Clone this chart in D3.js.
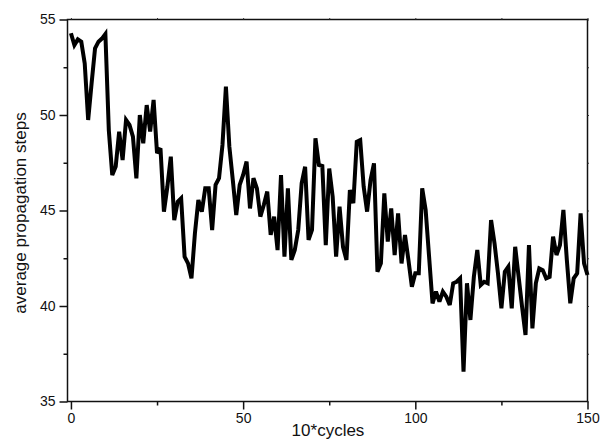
<!DOCTYPE html>
<html>
<head>
<meta charset="utf-8">
<script src="https://cdn.jsdelivr.net/npm/d3@7"></script>
<style>
  body { margin: 0; background: #fff; }
  svg { display: block; }
  text { font-family: "Liberation Sans", Arial, sans-serif; fill: #111; }
</style>
</head>
<body>
<svg id="chart" width="601" height="441"></svg>
<script>
// average propagation steps per sample, x = 0..150 (10*cycles)
const steps = [
  54.28, 53.66, 53.96, 53.84, 52.7, 49.74, 51.66, 53.49, 53.84, 54.0,
  54.24, 49.2, 46.86, 47.3, 49.13, 47.64, 49.74, 49.48, 48.87, 46.68,
  50.0, 48.52, 50.52, 49.13, 50.79, 48.0, 48.26, 44.94, 46.25, 47.82,
  44.5, 45.46, 45.64, 42.58, 42.23, 41.45, 43.8, 45.55, 44.94, 46.16,
  46.16, 43.98, 46.34, 46.69, 48.43, 51.48, 48.34, 46.6, 44.76, 46.34,
  46.86, 47.56, 45.11, 46.69, 46.16, 44.68, 45.29, 45.99, 43.72, 44.68,
  42.93, 46.86, 42.58, 46.16, 42.41, 42.93, 43.98, 46.42, 47.29, 43.46,
  43.98, 48.78, 47.38, 47.33, 43.19, 47.2, 45.73, 42.58, 45.2, 43.1,
  42.41, 46.07, 45.38, 48.6, 48.69, 46.25, 44.94, 46.6, 47.47, 41.8,
  42.23, 45.9, 43.37, 45.11, 42.67, 44.85, 42.23, 43.72, 42.41, 41.01,
  41.71, 41.71, 46.16, 45.03, 42.58, 40.14, 40.75, 40.23, 40.75, 40.49,
  40.05, 41.19, 41.27, 41.45, 36.56, 41.19, 39.27, 41.53, 42.93, 41.1,
  41.27, 41.19, 44.5, 43.28, 41.71, 39.88, 41.8, 42.06, 39.88, 43.1,
  41.53, 39.96, 38.48, 43.19, 38.83, 41.19, 41.97, 41.88, 41.45, 41.53,
  43.63, 42.67, 43.19, 45.03, 42.41, 40.14, 41.45, 41.71, 44.85, 42.23,
  41.62
]
const xTicks = [0, 50, 100, 150]
const xMinor = [25, 75, 125]
const yTicks = [35, 40, 45, 50, 55]
const yMinor = [37.5, 42.5, 47.5, 52.5]

const plotLeft = 67.5
const plotRight = 587.5
const plotTop = 19.5
const plotBottom = 401.5

const svg = d3.select('#chart')

const x = d3.scaleLinear().domain([-1, 150]).range([plotLeft, plotRight])
const y = d3.scaleLinear().domain([35, 55]).range([plotBottom, plotTop])

function styleAxis (g, size) {
  g.select('.domain').remove()
  g.selectAll('line').style('stroke', '#111').style('stroke-width', 1.5)
  g.selectAll('text')
    .style('font-size', size)
    .style('fill', '#111')
    .style('font-family', '"Liberation Sans", Arial, sans-serif')
}

// frame
svg.append('rect')
  .attr('x', plotLeft).attr('y', plotTop)
  .attr('width', plotRight - plotLeft).attr('height', plotBottom - plotTop)
  .style('fill', 'none').style('stroke', '#111').style('stroke-width', 1.5)

// bottom axis
const xAxis = svg.append('g').attr('transform', `translate(0,${plotBottom})`)
  .call(d3.axisBottom(x).tickValues(xTicks).tickSize(8).tickPadding(4).tickFormat(d3.format('d')))
styleAxis(xAxis, '14px')

const xMinorAxis = svg.append('g').attr('transform', `translate(0,${plotBottom})`)
  .call(d3.axisBottom(x).tickValues(xMinor).tickSize(4).tickFormat(''))
styleAxis(xMinorAxis, '14px')

// left axis
const yAxis = svg.append('g').attr('transform', `translate(${plotLeft},0)`)
  .call(d3.axisLeft(y).tickValues(yTicks).tickSize(8).tickPadding(4).tickFormat(d3.format('d')))
styleAxis(yAxis, '14px')

const yMinorAxis = svg.append('g').attr('transform', `translate(${plotLeft},0)`)
  .call(d3.axisLeft(y).tickValues(yMinor).tickSize(4).tickFormat(''))
styleAxis(yMinorAxis, '14px')

// tiny ticks on top and right edges
const topAxis = svg.append('g').attr('transform', `translate(0,${plotTop})`)
  .call(d3.axisTop(x).tickValues(xTicks.concat(xMinor)).tickSize(1.5).tickFormat(''))
topAxis.select('.domain').remove()
topAxis.selectAll('line').style('stroke', '#333')

const rightAxis = svg.append('g').attr('transform', `translate(${plotRight},0)`)
  .call(d3.axisRight(y).tickValues(yTicks.concat(yMinor)).tickSize(1.5).tickFormat(''))
rightAxis.select('.domain').remove()
rightAxis.selectAll('line').style('stroke', '#333')

// data line
const line = d3.line()
  .x((d, i) => x(i))
  .y(d => y(d))

svg.append('path')
  .datum(steps)
  .attr('d', line)
  .style('fill', 'none')
  .style('stroke', '#000')
  .style('stroke-width', 4)
  .style('stroke-linejoin', 'miter')
  .style('stroke-miterlimit', 3)

// axis titles
svg.append('text')
  .attr('x', 328)
  .attr('y', 436)
  .attr('text-anchor', 'middle')
  .style('font-size', '17px')
  .text('10*cycles')

svg.append('text')
  .attr('transform', 'translate(26,213) rotate(-90)')
  .attr('text-anchor', 'middle')
  .style('font-size', '17px')
  .text('average propagation steps')
</script>
</body>
</html>
